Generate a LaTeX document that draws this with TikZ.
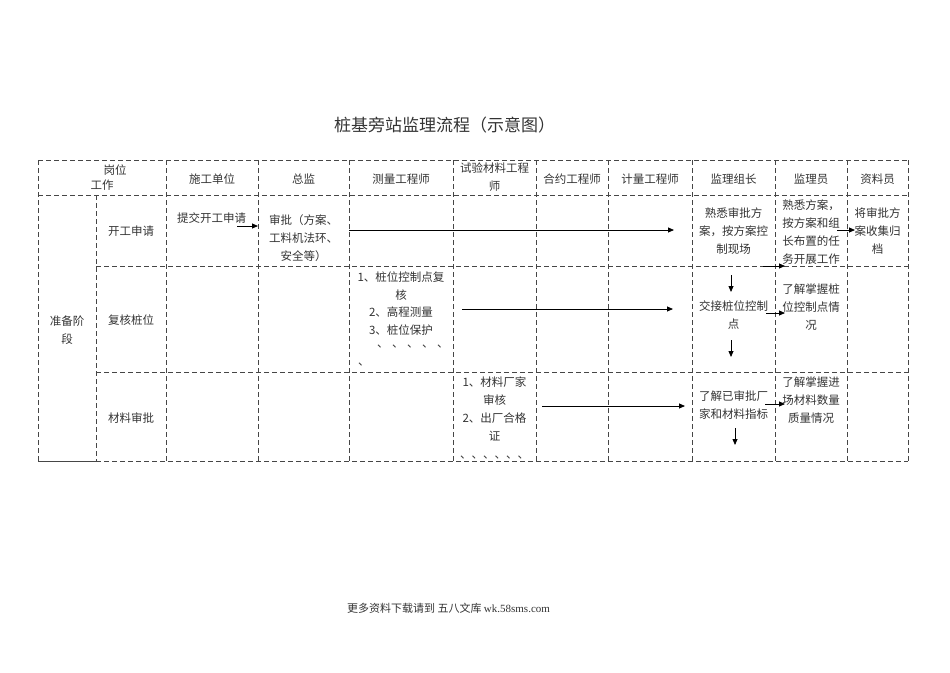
\documentclass[tikz,border=0pt]{standalone}
\usepackage{fontspec}
\setmainfont{Noto Sans CJK SC}
\newfontfamily\latinserif{Liberation Serif}
\usetikzlibrary{arrows.meta}
\begin{document}
\begin{tikzpicture}[x=1pt,y=-1pt,
  gridline/.style={draw=gray!55!black, line width=0.7pt, dash pattern=on 5pt off 3pt},
  solidline/.style={draw=gray!55!black, line width=0.8pt},
  txt/.style={align=center, inner sep=0pt, font=\fontsize{11.5}{17.8}\selectfont, text=black!80},
  arr/.style={draw=black, line width=0.8pt, -{Triangle[length=6pt,width=5pt]}},
]
\useasboundingbox (0,0) rectangle (950,672);

% title and footer
\node[txt, font=\fontsize{17}{20}\selectfont] (title) at (444.5,125) {桩基旁站监理流程（示意图）};
\node[txt, font=\fontsize{11}{13}\selectfont] (footer) at (448.5,608) {更多资料下载请到 五八文库 {\latinserif wk.58sms.com}};

% grid
\draw[gridline] (38,160) -- (908,160);
\draw[gridline] (38,195) -- (908,195);
\draw[gridline] (96,266) -- (908,266);
\draw[gridline] (96,372) -- (908,372);
\draw[gridline] (96,461) -- (908,461);
\draw[solidline] (38,461) -- (96,461);
\draw[gridline] (38,160) -- (38,461);
\draw[gridline] (96,195) -- (96,461);
\foreach \x in {166,258,349,453,536,608,692,775,847,908}
  \draw[gridline] (\x,160) -- (\x,461);

% header
\node[txt] (gangwei) at (115,170) {岗位};
\node[txt] (gongzuo) at (102,185) {工作};
\node[txt] (h1) at (212,179) {施工单位};
\node[txt] (h2) at (303.5,179) {总监};
\node[txt] (h3) at (401,179) {测量工程师};
\node[txt] (h4) at (494.5,177) {试验材料工程\\师};
\node[txt] (h5) at (572,179) {合约工程师};
\node[txt] (h6) at (650,179) {计量工程师};
\node[txt] (h7) at (733.5,179) {监理组长};
\node[txt] (h8) at (811,179) {监理员};
\node[txt] (h9) at (877.5,179) {资料员};

% stage
\node[txt] (stage) at (67,330) {准备阶\\段};

% row 1
\node[txt] (r1) at (131,231) {开工申请};
\node[txt] (tijiao) at (211.5,218) {提交开工申请};
\node[txt] (shenpi) at (303.5,238) {审批（方案、\\工料机法环、\\安全等）};
\node[txt] (shuxi) at (733.5,231) {熟悉审批方\\案，按方案控\\制现场};
\node[txt] (kaizhan) at (811,232) {熟悉方案，\\按方案和组\\长布置的任\\务开展工作};
\node[txt] (guidang) at (877.5,231) {将审批方\\案收集归\\档};

% row 2
\node[txt] (r2) at (131,320) {复核桩位};
\node[txt] (celiang) at (401,303.5) {1、桩位控制点复\\核\\2、高程测量\\3、桩位保护};
\node[txt, anchor=west] (dots) at (377,347) {、\hspace{3.5pt}、\hspace{3.5pt}、\hspace{3.5pt}、\hspace{3.5pt}、};
\node[txt, anchor=west] (dun) at (358,365) {、};
\node[txt] (jiaojie) at (733.5,315) {交接桩位控制\\点};
\node[txt] (zhangwo) at (811,307) {了解掌握桩\\位控制点情\\况};

% row 3
\node[txt] (r3) at (131,418) {材料审批};
\node[txt] (cailiao) at (494.5,418) {1、材料厂家\\审核\\2、出厂合格\\证\\、、、、、、};
\node[txt] (liaojie) at (733.5,405) {了解已审批厂\\家和材料指标};
\node[txt] (jinchang) at (811,400) {了解掌握进\\场材料数量\\质量情况};

% arrow end points
\coordinate (a1s) at (237,226);   \coordinate (a1e) at (258,226);
\coordinate (a2s) at (349,230);   \coordinate (a2e) at (674,230);
\coordinate (a3s) at (837,230);   \coordinate (a3e) at (855,230);
\coordinate (a4s) at (763,266);   \coordinate (a4e) at (785,266);
\coordinate (a5s) at (731,275);   \coordinate (a5e) at (731,292);
\coordinate (a6s) at (462,309);   \coordinate (a6e) at (673,309);
\coordinate (a7s) at (731,340);   \coordinate (a7e) at (731,357);
\coordinate (a8s) at (766,313);   \coordinate (a8e) at (785,313);
\coordinate (a9s) at (542,406);   \coordinate (a9e) at (685,406);
\coordinate (a10s) at (735,428);  \coordinate (a10e) at (735,445);
\coordinate (a11s) at (765,404);  \coordinate (a11e) at (785,404);

\foreach \i in {1,...,11}
  \draw[arr] (a\i s) -- (a\i e);
\end{tikzpicture}
\end{document}
